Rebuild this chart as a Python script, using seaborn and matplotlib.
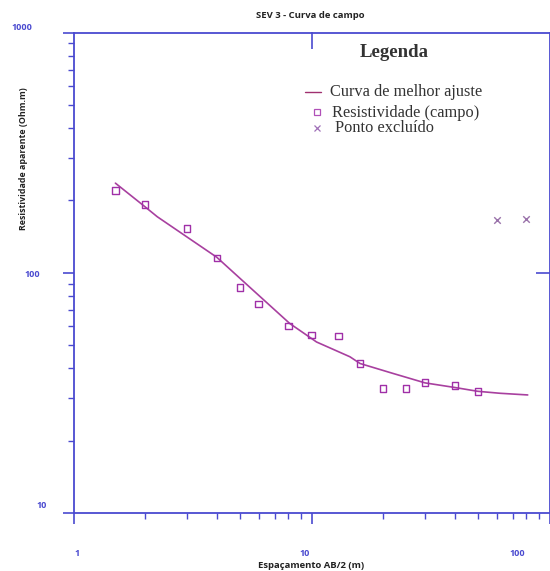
import matplotlib
matplotlib.use("Agg")
import matplotlib.pyplot as plt
import matplotlib.ticker as mticker
from matplotlib.transforms import ScaledTranslation
import seaborn as sns

# --- data -------------------------------------------------------------
# field apparent resistivity readings (AB/2 in m, rho_a in Ohm.m)
field_ab2 = [1.5, 2, 3, 4, 5, 6, 8, 10, 13, 16, 20, 25, 30, 40, 50]
field_rho = [220, 192, 153, 115, 87, 74, 60, 55, 54.5, 42, 33, 33, 35, 34, 32]

# readings left out of the inversion
excl_ab2 = [60, 80]
excl_rho = [165, 168]

# best-fit model response
fit_ab2 = [1.5, 2, 2.25, 4, 5.2, 8.1, 9.8, 10.5, 14.5, 16, 22, 30, 40, 50, 62, 81]
fit_rho = [236, 188, 171, 116, 91.6, 61.5, 54, 51.5, 44.7, 41.9, 38.1, 34.8,
           33.3, 32.1, 31.5, 31.0]

x_ticks = [1, 10, 100]
x_tick_labels = ["1", "10", "100"]
y_ticks = [10, 100, 1000]
y_tick_labels = ["10", "100", "1000"]

# --- style ------------------------------------------------------------
sns.set_theme(style="white")
plt.rcParams["font.family"] = ["Open Sans", "DejaVu Sans"]

AXIS_BLUE = "#4a4ad0"
FIT_COLOR = "#a8409f"
FIELD_COLOR = "#a030a8"
EXCL_COLOR = "#9a72aa"

W, H = 550, 571
fig = plt.figure(figsize=(W / 100, H / 100), dpi=100)
L, R, T, B = 73.5, 549.5, 32.5, 513.0
ax = fig.add_axes([L / W, 1 - B / H, (R - L) / W, (B - T) / H])
ax.set_facecolor("white")

# --- marks ------------------------------------------------------------
sns.lineplot(x=fit_ab2, y=fit_rho, ax=ax, color=FIT_COLOR, linewidth=1.2,
             sort=False, estimator=None, zorder=3)
sns.scatterplot(x=field_ab2, y=field_rho, ax=ax, marker="s", s=22,
                facecolors="none", edgecolors=FIELD_COLOR, linewidths=1.0,
                zorder=4)
sns.scatterplot(x=excl_ab2, y=excl_rho, ax=ax, marker="x", s=22,
                color=EXCL_COLOR, linewidths=1.0, zorder=4)

# --- axes -------------------------------------------------------------
ax.set_xscale("log")
ax.set_yscale("log")
ax.set_xlim(1, 100)
ax.set_ylim(10, 1000)

for side in ["left", "right", "top", "bottom"]:
    ax.spines[side].set_visible(True)
    ax.spines[side].set_color(AXIS_BLUE)
    ax.spines[side].set_linewidth(1.3)

ax.set_xticks(x_ticks, x_tick_labels)
ax.set_yticks(y_ticks, y_tick_labels)
ax.xaxis.set_minor_locator(mticker.LogLocator(base=10, subs=range(2, 10)))
ax.yaxis.set_minor_locator(mticker.LogLocator(base=10, subs=range(2, 10)))
ax.xaxis.set_minor_formatter(mticker.NullFormatter())
ax.yaxis.set_minor_formatter(mticker.NullFormatter())

ax.tick_params(which="major", direction="out", length=8, width=1.2,
               color=AXIS_BLUE, labelcolor=AXIS_BLUE, labelsize=6.5,
               bottom=True, left=True, top=False, right=False)
ax.tick_params(which="minor", direction="out", length=4, width=1.0,
               color=AXIS_BLUE, bottom=True, left=True, top=False, right=False)
ax.tick_params(axis="x", which="major", pad=18)
ax.tick_params(axis="y", which="major", pad=21.5)

for lbl in ax.get_xticklabels() + ax.get_yticklabels():
    lbl.set_fontweight("bold")

# nudge the tick labels to where the program places them
x_off = [3.5, -6.5, -32]
for lbl, dx in zip(ax.get_xticklabels(), x_off):
    lbl.set_transform(lbl.get_transform() +
                      ScaledTranslation(dx / 100, 0, fig.dpi_scale_trans))
y_off = [(9.5, 8), (0, -1), (-10.5, 6.5)]
for lbl, (dx, dy) in zip(ax.get_yticklabels(), y_off):
    lbl.set_horizontalalignment("center")
    lbl.set_transform(lbl.get_transform() +
                      ScaledTranslation(dx / 100, dy / 100, fig.dpi_scale_trans))

# inward single ticks on the top and right frames
top = ax.secondary_xaxis("top")
top.set_xticks([10])
top.xaxis.set_minor_locator(mticker.NullLocator())
top.tick_params(direction="in", length=12, width=1.2, color=AXIS_BLUE,
                labeltop=False)
top.spines["top"].set_visible(False)
right = ax.secondary_yaxis("right")
right.set_yticks([100])
right.yaxis.set_minor_locator(mticker.NullLocator())
right.tick_params(direction="in", length=10, width=1.2, color=AXIS_BLUE,
                  labelright=False)
right.spines["right"].set_visible(False)

# --- text -------------------------------------------------------------
ax.text(0.497, 1.036, "SEV 3 - Curva de campo", transform=ax.transAxes,
        ha="center", va="center", fontsize=6.8, fontweight="bold",
        color="#222222")
ax.set_xlabel("Espaçamento AB/2 (m)", fontsize=6.8, fontweight="bold",
              color="#222222")
ax.xaxis.set_label_coords(0.499, -0.110)
ax.set_ylabel("Resistividade aparente (Ohm.m)", fontsize=6.4,
              fontweight="bold", color="#222222")
ax.yaxis.set_label_coords(-0.105, 0.737)
ax.xaxis.label.set_va("center")
ax.yaxis.label.set_va("center")

# --- legend block -----------------------------------------------------
serif = ["Liberation Serif", "DejaVu Serif"]
ax.text(0.673, 0.959, "Legenda", transform=ax.transAxes, ha="center",
        va="center", fontsize=13.5, fontweight="bold", family=serif,
        color="#333333")
ax.plot([0.486, 0.519], [0.876, 0.876], transform=ax.transAxes,
        color="#a03070", lw=1.0, clip_on=False)
ax.plot([0.5115], [0.8345], transform=ax.transAxes, marker="s", ms=5,
        mfc="none", mec="#b050b8", mew=0.9, ls="none", clip_on=False)
ax.plot([0.5115], [0.801], transform=ax.transAxes, marker="x", ms=4.5,
        color="#a070b8", mew=0.9, ls="none", clip_on=False)
ax.text(0.539, 0.876, "Curva de melhor ajuste", transform=ax.transAxes,
        ha="left", va="center", fontsize=11.8, family=serif, color="#333333")
ax.text(0.543, 0.8325, "Resistividade (campo)", transform=ax.transAxes,
        ha="left", va="center", fontsize=11.8, family=serif, color="#333333")
ax.text(0.549, 0.801, "Ponto excluído", transform=ax.transAxes,
        ha="left", va="center", fontsize=11.8, family=serif, color="#333333")

fig.savefig("out.png", dpi=100, facecolor="white")
